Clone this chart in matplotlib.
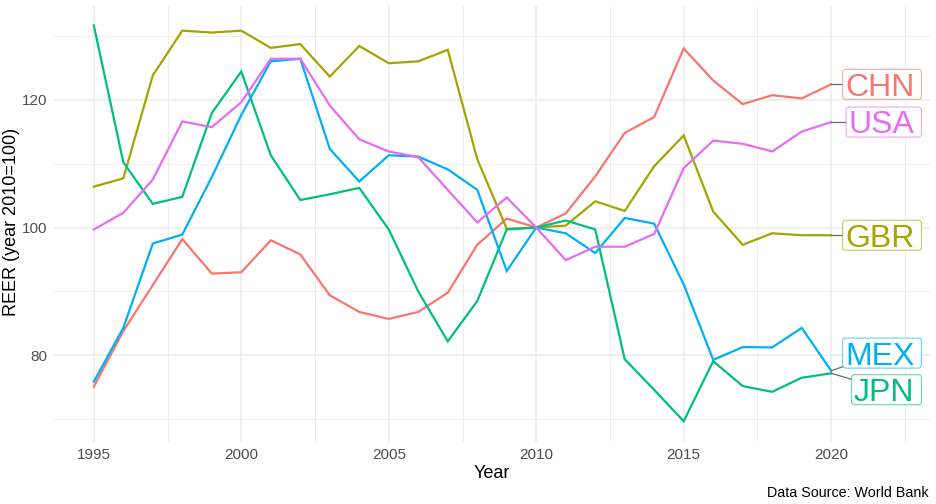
import matplotlib
matplotlib.use("Agg")
import matplotlib.pyplot as plt
from matplotlib.patches import FancyBboxPatch
from matplotlib.lines import Line2D
from matplotlib.transforms import IdentityTransform

plt.rcParams['font.family'] = ['Liberation Sans', 'DejaVu Sans']

years = list(range(1995, 2021))

chn = [75.1, 83.8, 91.0, 98.2, 92.8, 93.0, 98.0, 95.8, 89.4, 86.8, 85.7, 86.8, 89.8, 97.3,
       101.4, 100.0, 102.2, 108.0, 114.8, 117.3, 128.0, 123.0, 119.3, 120.7, 120.2, 122.4]
gbr = [106.4, 107.7, 123.8, 130.8, 130.5, 130.8, 128.1, 128.7, 123.6, 128.4, 125.7, 126.0, 127.8, 110.7,
       99.8, 100.0, 100.3, 104.1, 102.6, 109.6, 114.4, 102.5, 97.3, 99.1, 98.8, 98.8]
jpn = [131.6, 110.2, 103.7, 104.8, 117.9, 124.4, 111.3, 104.3, 105.2, 106.2, 99.7, 90.0, 82.2, 88.5,
       99.7, 100.0, 101.1, 99.7, 79.4, 74.6, 69.7, 79.1, 75.2, 74.3, 76.5, 77.2]
mex = [75.9, 84.3, 97.5, 98.9, 107.9, 117.6, 126.0, 126.4, 112.3, 107.2, 111.3, 111.1, 109.1, 105.9,
       93.2, 100.0, 99.1, 96.0, 101.5, 100.6, 91.1, 79.3, 81.3, 81.25, 84.3, 77.6]
usa = [99.7, 102.3, 107.5, 116.6, 115.7, 119.6, 126.4, 126.4, 119.1, 113.8, 111.9, 111.0, 105.9, 100.8,
       104.7, 100.0, 94.9, 97.0, 97.0, 99.0, 109.3, 113.6, 113.1, 111.9, 115.0, 116.5]

countries = ["CHN", "GBR", "JPN", "MEX", "USA"]
series = {"CHN": chn, "GBR": gbr, "JPN": jpn, "MEX": mex, "USA": usa}
colors = {"CHN": "#F8766D", "GBR": "#A3A500", "JPN": "#00BF7D", "MEX": "#00B0F6", "USA": "#E76BF3"}
# label vertical positions (after repelling)
label_y = {"CHN": 122.4, "USA": 116.5, "GBR": 98.8, "MEX": 80.36, "JPN": 74.64}

x_ticks = [1995, 2000, 2005, 2010, 2015, 2020]
y_ticks = [80, 100, 120]

fig = plt.figure(figsize=(9.36, 5.04), dpi=100)
ax = fig.add_axes([54/936, 1-441.7/504, (930-54)/936, (441.7-5.7)/504])

for s in ax.spines.values():
    s.set_visible(False)

ax.set_xlim(1993.65, 2023.35)
ax.set_ylim(66.5, 134.7)
ax.set_xticks(x_ticks)
ax.set_xticks([1997.5, 2002.5, 2007.5, 2012.5, 2017.5, 2022.5], minor=True)
ax.set_yticks(y_ticks)
ax.set_yticks([70, 90, 110, 130], minor=True)
ax.grid(which='major', color='#EBEBEB', lw=1.1)
ax.grid(which='minor', color='#EBEBEB', lw=0.6)
ax.set_axisbelow(True)
ax.tick_params(which='both', length=0, labelsize=11, labelcolor='#4D4D4D', pad=4.5)

for c in countries:
    ax.plot(years, series[c], color=colors[c], lw=1.6, solid_joinstyle='miter', zorder=3)

ax.set_xlabel("Year", fontsize=13, color='black', labelpad=2)
fig.text(11.5/936, 1-222/504, "REER (year 2010=100)", rotation=90, ha='center', va='center',
         fontsize=13, color='black')
fig.text(929/936, 1-497/504, "Data Source: World Bank", ha='right', va='baseline', fontsize=10.3, color='black')

# labels
fs = 23
x_right = 2023.06
cap_pt = 0.716 * fs
texts = {}
for c in countries:
    t = ax.annotate(c, xy=(x_right, label_y[c]), xytext=(-5, -cap_pt/2), textcoords='offset points',
                    ha='right', va='baseline', fontsize=fs, color=colors[c], zorder=6,
                    annotation_clip=False)
    texts[c] = t

fig.canvas.draw()
renderer = fig.canvas.get_renderer()
for c in countries:
    bb = texts[c].get_window_extent(renderer)
    rx, cy = ax.transData.transform((x_right, label_y[c]))
    x0 = bb.x0 - 2.5
    w = rx - x0
    h = 30
    y0 = cy - h/2
    px, py = ax.transData.transform((years[-1], series[c][-1]))
    seg = Line2D([px, x0 + w/2], [py, cy], transform=IdentityTransform(), color='#6b6b6b', lw=0.9,
                 zorder=4, clip_on=False)
    ax.add_artist(seg)
    box = FancyBboxPatch((x0, y0), w, h, boxstyle="round,pad=0,rounding_size=3",
                         transform=IdentityTransform(), facecolor='white',
                         edgecolor=matplotlib.colors.to_rgba(colors[c], 0.6), lw=0.8, zorder=5,
                         clip_on=False)
    ax.add_artist(box)

fig.savefig("out.png", dpi=100)
